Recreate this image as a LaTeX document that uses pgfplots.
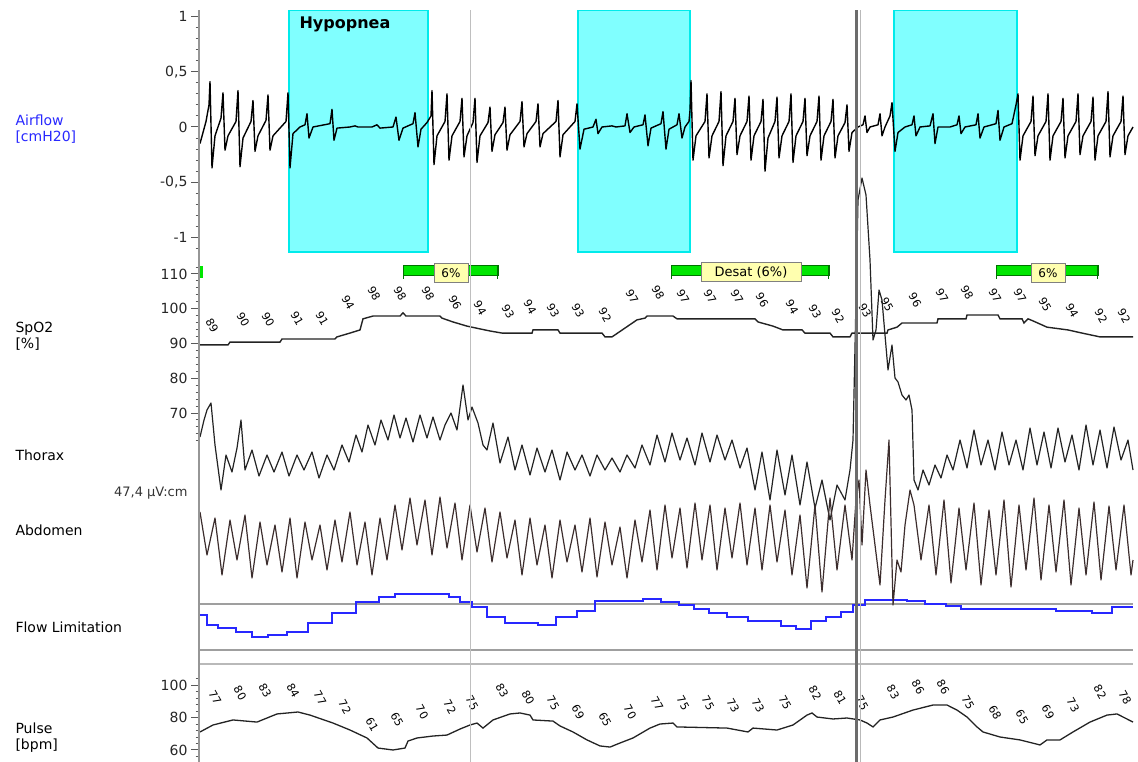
\documentclass[border=0pt]{standalone}
\usepackage{pgfplots}
\pgfplotsset{compat=1.18}
\usepackage{fontspec}
\setmainfont{DejaVu Sans}
\definecolor{airblue}{RGB}{40,40,255}
\definecolor{cyanfill}{RGB}{128,255,255}
\definecolor{cyanedge}{RGB}{0,235,235}
\definecolor{flagreen}{RGB}{0,230,0}
\definecolor{labyellow}{RGB}{255,255,175}
\definecolor{axgray}{RGB}{150,150,150}
\definecolor{trace}{RGB}{35,35,35}
\definecolor{abdo}{RGB}{60,45,45}
\pgfplotsset{
 panel/.style={scale only axis, width=933pt, xmin=200, xmax=1133,
   axis line style={draw=none}, xtick=\empty, ytick pos=left, tick align=outside,
   major tick length=9pt, minor tick length=4.5pt,
   tick style={color=gray!70!black, line width=1pt},
   yticklabel style={font=\fontsize{14}{14}\selectfont, text=black!85},
   /pgf/number format/assume math mode=true, clip=false},
 vals/.style={only marks, mark=o, mark size=0pt, mark options={draw=none},
   nodes near coords, point meta=explicit symbolic,
   every node near coord/.append style={font=\fontsize{11}{11}\selectfont, rotate=-60, anchor=center, inner sep=0pt}}
}
\begin{document}
\begin{tikzpicture}
\useasboundingbox (0pt,0pt) rectangle (1138pt,-762pt);
% ---------------- Airflow ----------------
\begin{axis}[panel, at={(200pt,-10pt)}, anchor=north west, height=248pt,
  ymin=-1.1855, ymax=1.0588,
  ytick={-1,-0.5,0,0.5,1}, yticklabels={{-1},{-0,5},{0},{0,5},{1}},
  minor ytick={-1.1,-0.9,-0.8,-0.7,-0.6,-0.4,-0.3,-0.2,-0.1,0.1,0.2,0.3,0.4,0.6,0.7,0.8,0.9}]
\addplot[fill=cyanfill, draw=cyanedge, line width=1.5pt] coordinates {(289,-1.131) (289,1.052) (428,1.052) (428,-1.131)} -- cycle;
\addplot[fill=cyanfill, draw=cyanedge, line width=1.5pt] coordinates {(578,-1.131) (578,1.052) (690,1.052) (690,-1.131)} -- cycle;
\addplot[fill=cyanfill, draw=cyanedge, line width=1.5pt] coordinates {(894,-1.131) (894,1.052) (1017,1.052) (1017,-1.131)} -- cycle;
\addplot[black, line width=1.4pt, line join=round] coordinates {
(200,-0.15) (203,-0.05) (206,0.05) (209,0.2) (210,0.41) (212,-0.37) (215,-0.08) (221,0.08) (223,0.31) (225,-0.21) (228,-0.08) (236,0.05) (238,0.33) (240,-0.36) (243,-0.1) (251,0.05) (253,0.24) (255,-0.22) (258,-0.08) (266,0.06) (268,0.29) (270,-0.21) (273,-0.08) (286,0.05) (288,0.31)
(290,-0.37) (293,-0.06) (300,0.0) (305,0.02) (307,0.12) (309,-0.1) (313,0.0) (330,0.03) (332,0.16) (334,-0.12) (337,-0.01) (350,0.0) (355,0.01) (358,0.0) (372,0.0) (377,0.02) (380,-0.01) (393,0.0) (396,0.09) (399,-0.12) (403,-0.01) (413,0.03) (415,0.13) (418,-0.18) (421,-0.02) (427,0.04)
(431,0.1) (432,0.33) (434,-0.34) (437,-0.08) (445,0.05) (447,0.3) (449,-0.3) (452,-0.08) (460,0.05) (462,0.26) (464,-0.27) (467,-0.08) (473,0.04) (475,0.26) (477,-0.32) (480,-0.08) (488,0.04) (490,0.18) (492,-0.22) (495,-0.07) (503,0.04) (505,0.18) (507,-0.21) (510,-0.07) (520,0.05) (522,0.23) (524,-0.18) (527,-0.06) (536,0.05) (538,0.21) (540,-0.18) (543,-0.06) (556,0.05) (558,0.24) (560,-0.27) (563,-0.07) (575,0.05) (577,0.21)
(580,-0.2) (584,-0.02) (593,0.0) (596,0.07) (598,-0.06) (602,0.0) (612,0.01) (616,0.0) (625,0.01) (627,0.12) (630,-0.05) (634,0.0) (643,0.02) (645,0.11) (648,-0.17) (651,-0.01) (661,0.03) (663,0.14) (666,-0.2) (669,-0.02) (677,0.02) (679,0.12) (682,-0.1) (685,0.0) (689,0.05)
(690,0.15) (691,0.42) (693,-0.3) (696,-0.08) (705,0.05) (707,0.3) (709,-0.28) (712,-0.08) (719,0.05) (721,0.32) (723,-0.35) (726,-0.08) (733,0.05) (735,0.26) (737,-0.25) (740,-0.08) (747,0.05) (749,0.28) (751,-0.3) (754,-0.08) (761,0.05) (763,0.25) (765,-0.4) (768,-0.1) (775,0.05) (777,0.27) (779,-0.28) (782,-0.08) (789,0.05) (791,0.3) (793,-0.32) (796,-0.08) (803,0.05) (805,0.26) (807,-0.26) (810,-0.08) (817,0.05) (819,0.28) (821,-0.3) (824,-0.08) (831,0.05) (833,0.25) (835,-0.28) (838,-0.08) (845,0.04) (847,0.2) (849,-0.22) (852,-0.05) (858,0.0) (863,0.02) (865,0.1) (867,-0.05) (870,0.0) (878,0.02) (880,0.12) (882,-0.08) (885,0.0) (890,0.1) (892,0.22)
(895,-0.22) (898,-0.05) (905,0.0) (912,0.02) (914,0.1) (916,-0.08) (920,0.0) (930,0.01) (933,0.12) (935,-0.15) (938,0.0) (950,0.0) (957,0.02) (959,0.1) (961,-0.06) (965,0.0) (976,0.02) (978,0.12) (980,-0.1) (984,0.0) (996,0.03) (998,0.15) (1000,-0.12) (1004,0.0) (1012,0.03) (1016,0.2)
(1018,0.3) (1020,-0.3) (1023,-0.08) (1031,0.05) (1033,0.28) (1035,-0.26) (1038,-0.08) (1046,0.05) (1048,0.3) (1050,-0.3) (1053,-0.08) (1061,0.05) (1063,0.26) (1065,-0.28) (1068,-0.08) (1076,0.05) (1078,0.3) (1080,-0.25) (1083,-0.08) (1091,0.05) (1093,0.27) (1095,-0.3) (1098,-0.08) (1106,0.05) (1108,0.32) (1110,-0.27) (1113,-0.08) (1121,0.05) (1123,0.28) (1125,-0.25) (1128,-0.08) (1133,0.0)};
\end{axis}
% ---------------- SpO2 ----------------
\begin{axis}[panel, at={(200pt,-262pt)}, anchor=north west, height=185pt,
  ymin=60.22, ymax=113.45, ytick={70,80,90,100,110}, minor ytick={62,64,...,112}]
\addplot[trace, line width=1.4pt] coordinates {
(200,89.6) (228,89.6) (230,90.4) (280,90.4) (282,91.3) (335,91.3) (337,91.9) (350,93.0) (360,93.9) (363,97.1) (373,97.9) (400,97.9) (403,98.8) (406,97.9) (440,97.9) (442,97.3) (453,96.2) (467,95.0) (480,94.2) (490,93.6) (502,93.0) (532,93.0) (533,93.9) (558,93.9) (560,93.0) (602,93.0) (605,91.9) (612,91.9) (637,96.8) (645,97.3) (647,97.9) (673,97.9) (677,97.1) (755,97.1) (758,96.2) (773,95.0) (783,93.9) (802,93.9) (805,93.0) (830,93.0) (833,91.9) (850,91.9) (852,93.0) (887,93.0) (888,93.9) (897,94.7) (902,95.9) (937,95.9) (938,97.1) (966,97.1) (967,98.2) (998,98.2) (1000,97.1) (1022,97.1) (1024,95.9) (1028,97.1) (1033,96.5) (1047,94.7) (1068,93.9) (1082,93.0) (1100,91.9) (1133,91.9)};
\addplot[vals] coordinates {
(212,95.3)[89] (243,96.8)[90] (268,96.8)[90] (297,97.3)[91] (322,97.3)[91] (348,101.7)[94] (374,104.5)[98] (400,104.5)[98] (428,104.5)[98] (455,101.7)[96] (480,100.2)[94] (508,99.1)[93] (530,100.5)[94] (553,99.6)[93] (578,99.6)[93] (605,98.2)[92] (632,103.4)[97] (658,104.8)[98] (683,103.4)[97] (710,103.4)[97] (737,103.4)[97] (762,102.5)[96] (792,100.5)[94] (815,99.1)[93] (838,97.9)[92] (865,99.6)[93] (887,101.1)[95] (915,102.5)[96] (942,103.7)[97] (967,104.8)[98] (995,103.7)[97] (1020,103.7)[97] (1045,101.1)[95] (1072,99.6)[94] (1101,97.9)[92] (1124,97.9)[92]};
\end{axis}
% ---------------- Pulse ----------------
\begin{axis}[panel, at={(200pt,-668pt)}, anchor=north west, height=94pt,
  ymin=52.6, ymax=110.5, ytick={60,80,100}, minor ytick={56,60,...,104}]
\addplot[trace, line width=1.3pt] coordinates {
(200,71.1) (213,75.4) (233,78.5) (257,77.2) (277,82.2) (298,83.4) (310,81.5) (333,76.6) (350,72.3) (367,67.4) (378,61.2) (393,60.0) (405,61.2) (408,65.5) (417,67.4) (433,68.6) (447,69.2) (460,72.9) (470,75.4) (477,76.6) (483,73.5) (493,78.5) (510,82.2) (520,82.8) (530,81.5) (533,78.5) (553,77.8) (560,74.8) (573,71.1) (587,66.2) (600,62.5) (610,61.8) (620,64.3) (633,67.4) (650,73.5) (660,76.0) (673,76.6) (677,74.2) (727,73.5) (748,71.1) (753,73.5) (777,72.3) (793,75.4) (807,81.5) (812,82.8) (817,80.3) (833,79.1) (847,79.7) (860,78.5) (867,76.6) (873,74.2) (880,78.5) (893,80.3) (913,84.6) (933,87.7) (947,87.7) (957,84.6) (967,80.3) (977,74.2) (983,71.1) (1000,68.0) (1020,66.2) (1040,63.1) (1047,66.2) (1060,66.2) (1073,71.1) (1090,77.2) (1107,81.5) (1117,82.2) (1133,77.2)};
\addplot[vals] coordinates {
(215,92.6)[77] (240,95.1)[80] (265,96.9)[83] (293,96.9)[84] (320,92.0)[77] (345,86.5)[72] (372,75.4)[61] (397,78.5)[65] (422,83.4)[70] (450,86.5)[72] (472,88.9)[75] (502,96.9)[83] (528,92.6)[80] (553,88.9)[75] (578,83.4)[69] (605,78.5)[65] (630,83.4)[70] (657,88.9)[77] (683,88.9)[75] (708,88.9)[75] (733,87.1)[73] (758,87.1)[73] (785,89.5)[75] (815,95.1)[82] (840,92.6)[81] (862,88.9)[75] (893,95.7)[83] (918,98.8)[86] (943,98.8)[86] (968,89.5)[75] (995,82.8)[68] (1022,80.3)[65] (1048,83.4)[69] (1073,87.7)[73] (1100,95.7)[82] (1125,92.6)[78]};
\end{axis}
% ---------------- untitled-scale traces (pixel rows) ----------------
\begin{axis}[at={(200pt,-10pt)}, anchor=north west, scale only axis, width=933pt, height=752pt,
  xmin=200, xmax=1133, ymin=10, ymax=762, y dir=reverse, hide axis, clip=false]
% flow limitation frame
\addplot[gray!75, line width=1.5pt] coordinates {(199,604) (1133,604)};
\addplot[gray!75, line width=1.5pt] coordinates {(199,650) (1133,650)};
\addplot[gray!55, line width=2.5pt] coordinates {(199,664) (1133,664)};
\addplot[airblue, line width=1.6pt, const plot] coordinates {
(200,615) (207,625) (218,628) (236,632) (252,637) (268,635) (287,632) (308,623) (332,613) (356,602) (379,597) (395,594) (449,597) (460,602) (472,607) (487,617) (505,623) (538,625) (556,617) (577,611) (595,601) (643,599) (661,602) (679,605) (694,609) (709,613) (727,617) (748,621) (781,626) (796,629) (811,621) (826,617) (841,612) (853,605) (865,600) (907,601) (925,604) (946,606) (961,609) (1020,609) (1056,611) (1092,613) (1112,607) (1133,607)};
% thorax
\addplot[trace, line width=1.2pt, line join=round] coordinates {
(200,437) (204,420) (207,410) (211,403) (215,445) (221,490) (226,455) (232,472) (237,448) (241,420) (245,470) (252,450) (259,476) (267,455) (274,472) (282,452) (289,476) (297,455) (304,470) (312,452) (319,478) (327,455) (334,470) (342,445) (349,462) (356,435) (362,452) (368,425) (375,445) (381,420) (388,440) (394,415) (400,438) (406,418) (413,442) (420,415) (427,438) (433,417) (440,440) (445,425) (451,413) (457,430) (463,385) (468,420) (472,407) (478,423) (483,445) (487,450) (493,423) (500,463) (508,437) (515,470) (522,445) (530,475) (537,448) (545,472) (552,450) (560,480) (567,452) (575,470) (582,455) (590,476) (597,455) (605,470) (612,458) (620,472) (627,455) (635,468) (642,445) (650,465) (657,435) (665,462) (672,433) (680,460) (687,438) (695,465) (702,433) (710,462) (717,435) (725,460) (732,440) (740,468) (747,448) (755,490) (762,452) (770,500) (777,450) (785,495) (792,455) (800,505) (807,462) (815,508) (822,480) (830,520) (837,485) (845,500) (850,470) (853,440) (856,300) (858,200) (862,178) (866,195) (870,260) (873,340) (876,330) (879,290) (882,300) (885,335) (888,370) (892,345) (895,378) (898,382) (902,395) (906,400) (909,395) (912,410) (914,480) (918,490) (923,470) (929,485) (935,465) (941,478) (947,455) (953,470) (960,440) (967,468) (974,430) (981,465) (988,440) (995,470) (1002,432) (1009,465) (1016,440) (1023,470) (1030,428) (1037,465) (1044,432) (1051,468) (1058,428) (1065,462) (1072,435) (1079,470) (1086,425) (1093,465) (1100,430) (1107,468) (1114,427) (1121,460) (1128,440) (1133,470)};
% abdomen
\addplot[abdo, line width=1.2pt, line join=round] coordinates {
(200,512) (207,555) (215,518) (222,575) (230,520) (237,560) (245,515) (252,578) (260,522) (267,565) (275,525) (282,572) (290,518) (297,578) (305,522) (312,560) (320,525) (327,570) (335,520) (342,562) (350,512) (357,565) (365,522) (372,575) (380,518) (387,560) (395,505) (402,550) (410,498) (417,545) (425,500) (432,555) (440,497) (447,548) (455,503) (462,560) (470,505) (477,552) (485,508) (492,562) (500,512) (507,558) (515,520) (522,575) (530,518) (537,565) (545,525) (552,578) (560,520) (567,562) (575,525) (582,572) (590,518) (597,577) (605,522) (612,565) (620,527) (627,578) (635,520) (642,562) (650,510) (657,570) (665,505) (672,558) (680,508) (687,568) (695,503) (702,560) (710,505) (717,570) (725,508) (732,558) (740,503) (747,565) (755,508) (762,570) (770,505) (777,562) (785,510) (792,575) (800,515) (807,588) (815,505) (822,592) (830,498) (837,570) (845,505) (852,560) (856,500) (859,480) (862,545) (866,470) (870,505) (875,545) (880,585) (885,500) (889,440) (893,605) (897,560) (901,572) (905,525) (910,490) (914,505) (921,560) (929,505) (936,575) (944,500) (951,583) (959,508) (966,570) (974,503) (981,585) (989,510) (996,575) (1004,500) (1011,587) (1019,505) (1026,570) (1034,498) (1041,580) (1049,505) (1056,572) (1064,500) (1071,585) (1079,508) (1086,575) (1094,502) (1101,580) (1109,506) (1116,570) (1124,505) (1131,575) (1133,560)};
% desaturation flags
\addplot[fill=flagreen, draw=green!45!black, line width=0.5pt] coordinates {(403,265) (498,265) (498,275) (403,275)} -- cycle;
\addplot[fill=flagreen, draw=green!45!black, line width=0.5pt] coordinates {(671,265) (829,265) (829,275) (671,275)} -- cycle;
\addplot[fill=flagreen, draw=green!45!black, line width=0.5pt] coordinates {(996,265) (1098,265) (1098,275) (996,275)} -- cycle;
\addplot[green!45!black, line width=1.2pt] coordinates {(403.5,265) (403.5,279)};
\addplot[green!45!black, line width=1.2pt] coordinates {(497.5,265) (497.5,279)};
\addplot[green!45!black, line width=1.2pt] coordinates {(671.5,265) (671.5,279)};
\addplot[green!45!black, line width=1.2pt] coordinates {(828.5,265) (828.5,279)};
\addplot[green!45!black, line width=1.2pt] coordinates {(996.5,265) (996.5,279)};
\addplot[green!45!black, line width=1.2pt] coordinates {(1097.5,265) (1097.5,279)};
\addplot[fill=flagreen, draw=none] coordinates {(199,266) (203,266) (203,278) (199,278)} -- cycle;
\node[fill=labyellow, draw=gray, line width=0.8pt, minimum width=34pt, minimum height=19pt, inner sep=1pt, font=\fontsize{12}{12}\selectfont] at (axis cs:451,273) {6\%};
\node[fill=labyellow, draw=gray, line width=0.8pt, minimum width=100pt, minimum height=19pt, inner sep=1pt, font=\fontsize{13}{13}\selectfont] at (axis cs:751,272) {Desat (6\%)};
\node[fill=labyellow, draw=gray, line width=0.8pt, minimum width=34pt, minimum height=19pt, inner sep=1pt, font=\fontsize{12}{12}\selectfont] at (axis cs:1048,273) {6\%};
% cursor lines and left axis line
\addplot[gray!50, line width=0.9pt] coordinates {(470,10) (470,762)};
\addplot[gray!85!black, line width=2.2pt] coordinates {(856.5,10) (856.5,762)};
\addplot[gray!55, line width=1.5pt] coordinates {(860.5,10) (860.5,762)};
\addplot[axgray, line width=2pt] coordinates {(199,10) (199,762)};
\end{axis}
% ---------------- channel labels ----------------
\node[anchor=west, text=airblue, align=left, font=\fontsize{14}{16}\selectfont] at (12pt,-129pt) {Airflow\\{}[cmH20]};
\node[anchor=west, align=left, font=\fontsize{14}{16}\selectfont] at (12pt,-336pt) {SpO2\\{}[\%]};
\node[anchor=west, font=\fontsize{14}{16}\selectfont] at (12pt,-455pt) {Thorax};
\node[anchor=east, text=black!80, font=\fontsize{13}{15}\selectfont] at (191pt,-493pt) {47,4 µV:cm};
\node[anchor=west, font=\fontsize{14}{16}\selectfont] at (12pt,-530pt) {Abdomen};
\node[anchor=west, font=\fontsize{14}{16}\selectfont] at (12pt,-627pt) {Flow Limitation};
\node[anchor=west, align=left, font=\fontsize{14}{16}\selectfont] at (12pt,-738pt) {Pulse\\{}[bpm]};
\node[anchor=west, font=\bfseries\fontsize{16}{16}\selectfont] at (296pt,-24pt) {Hypopnea};
\end{tikzpicture}
\end{document}
